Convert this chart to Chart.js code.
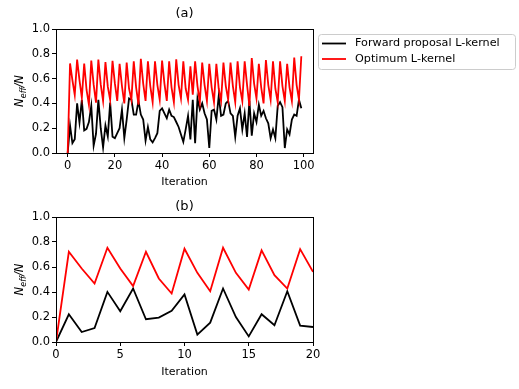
<!DOCTYPE html>
<html>
<head>
<meta charset="utf-8">
<script src="https://cdn.jsdelivr.net/npm/chart.js@4"></script>
<style>
  html, body { margin: 0; padding: 0; background: #fff; }
  #wrap { position: relative; width: 519px; height: 389px; }
  canvas { position: absolute; left: 0; }
</style>
</head>
<body>
<div id="wrap">
  <canvas id="chartA" width="519" height="195" style="top:0"></canvas>
  <canvas id="chartB" width="519" height="194" style="top:195px"></canvas>
</div>
<script>
// values, iteration 0..99
const optimum = [
  0, 0.722, 0.588, 0.468, 0.754, 0.588, 0.447, 0.722, 0.508, 0.388,
  0.746, 0.553, 0.406, 0.754, 0.553, 0.420, 0.733, 0.535, 0.428, 0.743,
  0.561, 0.42, 0.72, 0.54, 0.40, 0.73, 0.52, 0.43, 0.74, 0.53,
  0.39, 0.76, 0.56, 0.42, 0.74, 0.54, 0.41, 0.74, 0.55, 0.43,
  0.745, 0.56, 0.42, 0.74, 0.53, 0.41, 0.755, 0.55, 0.44, 0.74,
  0.52, 0.43, 0.70, 0.47, 0.74, 0.54, 0.41, 0.73, 0.55, 0.42,
  0.72, 0.53, 0.41, 0.72, 0.52, 0.42, 0.73, 0.54, 0.43, 0.73,
  0.54, 0.41, 0.74, 0.53, 0.42, 0.74, 0.55, 0.38, 0.765, 0.56,
  0.44, 0.72, 0.53, 0.40, 0.75, 0.55, 0.43, 0.74, 0.52, 0.41,
  0.74, 0.54, 0.42, 0.72, 0.53, 0.42, 0.77, 0.55, 0.43, 0.78
];
const forward = [
  0.0, 0.222, 0.08, 0.112, 0.401, 0.246, 0.428, 0.182, 0.195, 0.249,
  0.38, 0.059, 0.155, 0.428, 0.2, 0.045, 0.222, 0.134, 0.406, 0.131,
  0.12, 0.16, 0.2, 0.35, 0.12, 0.27, 0.44, 0.43, 0.31, 0.31,
  0.42, 0.31, 0.27, 0.1, 0.21, 0.11, 0.085, 0.12, 0.16, 0.34,
  0.36, 0.32, 0.28, 0.35, 0.3, 0.29, 0.25, 0.21, 0.15, 0.09,
  0.19, 0.3, 0.11, 0.43, 0.08, 0.44, 0.35, 0.4, 0.32, 0.27,
  0.04, 0.34, 0.35, 0.27, 0.46, 0.3, 0.31, 0.4, 0.42, 0.32,
  0.3, 0.13, 0.3, 0.36, 0.19, 0.32, 0.13, 0.42, 0.14, 0.32,
  0.25, 0.39, 0.3, 0.34, 0.28, 0.24, 0.12, 0.19, 0.12, 0.38,
  0.41, 0.37, 0.04, 0.19, 0.15, 0.27, 0.31, 0.3, 0.43, 0.36
];
const seriesNames = ['Forward proposal L-kernel', 'Optimum L-kernel'];
const seriesColors = ['#000000', '#ff0000'];
const yTicks = [0, 0.2, 0.4, 0.6, 0.8, 1.0];
const xTicksA = [0, 20, 40, 60, 80, 100];
const xTicksB = [0, 5, 10, 15, 20];
const zoomEnd = 20; // panel (b) shows the first iterations only

Chart.defaults.font.family = 'DejaVu Sans';
Chart.defaults.font.size = 11;
Chart.defaults.color = '#000';

const toPoints = (arr, n) => arr.slice(0, n + 1).map((y, x) => ({ x, y }));

// frame, panel title, mathtext-like y label and the outside legend
const decor = {
  id: 'decor',
  afterDraw(chart, args, opts) {
    const { ctx, chartArea: a } = chart;
    ctx.save();
    ctx.strokeStyle = '#000';
    ctx.lineWidth = 1;
    ctx.strokeRect(Math.round(a.left) + 0.5, Math.round(a.top) + 0.5,
      Math.round(a.right - a.left), Math.round(a.bottom - a.top));

    ctx.fillStyle = '#000';
    ctx.font = '13px "DejaVu Sans"';
    ctx.textAlign = 'center';
    ctx.textBaseline = 'middle';
    ctx.fillText(opts.title, (a.left + a.right) / 2, opts.titleY);

    // N_eff/N
    ctx.translate(19, (a.top + a.bottom) / 2);
    ctx.rotate(-Math.PI / 2);
    ctx.textAlign = 'left';
    ctx.textBaseline = 'alphabetic';
    const big = 'italic 11.5px "DejaVu Sans"', small = 'italic 8px "DejaVu Sans"';
    ctx.font = big; const wN = ctx.measureText('N').width, wS = ctx.measureText('/N').width;
    ctx.font = small; const wE = ctx.measureText('eff').width;
    let x = -(wN + wE + wS) / 2;
    ctx.font = big; ctx.fillText('N', x, 4); x += wN;
    ctx.font = small; ctx.fillText('eff', x, 7); x += wE;
    ctx.font = big; ctx.fillText('/N', x, 4);
    ctx.restore();

    if (opts.legend) {
      ctx.save();
      ctx.beginPath();
      ctx.roundRect(318.5, 34.5, 197, 35, 3);
      ctx.fillStyle = 'rgba(255,255,255,0.8)';
      ctx.fill();
      ctx.strokeStyle = '#cccccc';
      ctx.lineWidth = 1;
      ctx.stroke();
      ctx.font = '11.2px "DejaVu Sans"';
      ctx.textBaseline = 'middle';
      ctx.textAlign = 'left';
      seriesNames.forEach((name, i) => {
        const y = 43.5 + i * 15.5;
        ctx.strokeStyle = seriesColors[i];
        ctx.lineWidth = 1.8;
        ctx.beginPath();
        ctx.moveTo(322, y);
        ctx.lineTo(346, y);
        ctx.stroke();
        ctx.fillStyle = '#000';
        ctx.fillText(name, 355, y);
      });
      ctx.restore();
    }
  }
};

function makeChart(id, n, xMin, xMax, xTicks, padTop, padBottom, xHeight, title, titleY, legend) {
  return new Chart(document.getElementById(id), {
    type: 'line',
    data: {
      datasets: [
        { label: seriesNames[1], data: toPoints(optimum, n), borderColor: seriesColors[1] },
        { label: seriesNames[0], data: toPoints(forward, n), borderColor: seriesColors[0] }
      ]
    },
    options: {
      responsive: false,
      animation: false,
      devicePixelRatio: 1,
      elements: { point: { radius: 0 }, line: { borderWidth: 1.8, tension: 0 } },
      layout: { padding: { left: 0, right: 206, top: padTop, bottom: padBottom } },
      plugins: {
        legend: { display: false },
        tooltip: { enabled: false },
        decor: { title, titleY, legend }
      },
      scales: {
        x: {
          type: 'linear',
          min: xMin,
          max: xMax,
          afterBuildTicks: s => { s.ticks = xTicks.map(v => ({ value: v })); },
          afterFit: s => { s.height = xHeight; },
          ticks: { padding: 2, maxRotation: 0, font: { size: 11.5 }, callback: v => String(v) },
          grid: { drawOnChartArea: false, drawTicks: true, tickLength: 4, color: '#000' },
          border: { display: false },
          title: { display: true, text: 'Iteration', padding: 0 }
        },
        y: {
          min: 0,
          max: 1,
          afterBuildTicks: s => { s.ticks = yTicks.map(v => ({ value: v })); },
          afterFit: s => { s.width = 56; },
          ticks: { padding: 2, font: { size: 11.5 }, callback: v => v.toFixed(1) },
          grid: { drawOnChartArea: false, drawTicks: true, tickLength: 4, color: '#000' },
          border: { display: false }
        }
      }
    },
    plugins: [decor]
  });
}

makeChart('chartA', 99, -4.95, 103.95, xTicksA, 29, 6.7, 35.3, '(a)', 14, true);
makeChart('chartB', zoomEnd, 0, zoomEnd, xTicksB, 22, 10.4, 36.6, '(b)', 12, false);
</script>
</body>
</html>
